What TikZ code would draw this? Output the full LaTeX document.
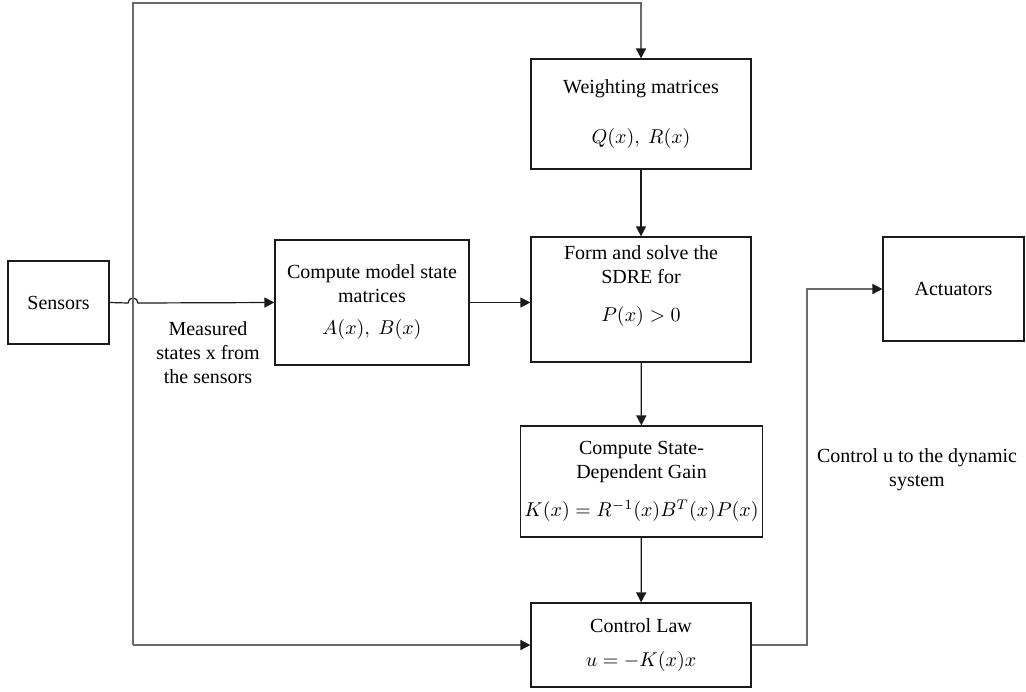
\documentclass[tikz,border=0pt]{standalone}
\usepackage{fontspec}
\setmainfont{Liberation Serif}
\usepackage{xcolor}
\definecolor{cLine}{HTML}{1A1A1A}
\definecolor{cFeed}{HTML}{6A6A6A}
\usepackage{tikz}
\usetikzlibrary{positioning,arrows.meta,calc}
\tikzset{
  node-box/.style={draw=cLine,semithick,align=center,font=\fontsize{10}{12}\selectfont,
    inner sep=2pt},
  node-label/.style={align=center,font=\fontsize{10}{12}\selectfont},
  arrow/.style={-{Stealth[length=5pt,width=5pt,inset=0pt]},semithick,draw=cLine},
  arrow-feed/.style={-{Stealth[length=5pt,width=5pt,inset=0pt,color=cLine]},thick,draw=cFeed},
}

\begin{document}
\begin{tikzpicture}[x=0.5pt,y=-0.5pt]
  \useasboundingbox (0,0) rectangle (1026,691);
  \node[node-box,minimum width=50.5pt,minimum height=41.5pt] (sens) at (58.5,302.5) {Sensors};
  \node[node-box,minimum width=97pt,minimum height=62.5pt] (model) at (372,302.5)
    {Compute model state\\matrices\\[4pt]$A(x),\ B(x)$};
  \node[node-box,minimum width=110pt,minimum height=55pt] (weight) at (641,114)
    {Weighting matrices\\[13pt]$Q(x),\ R(x)$};
  \node[node-box,minimum width=110pt,minimum height=62.5pt] (sdre) at (641,299.5)
    {Form and solve the\\SDRE for\\[7pt]$P(x)>0$\\[4pt]};
  \node[node-box,minimum width=113.5pt,minimum height=55.5pt] (gain) at (641.5,481.5)
    {Compute State-\\Dependent Gain\\[7pt]$K(x)=R^{-1}(x)B^{T}(x)P(x)$};
  \node[node-box,minimum width=110pt,minimum height=42pt] (law) at (641,645)
    {Control Law\\[5pt]$u=-K(x)x$};
  \node[node-box,minimum width=70.5pt,minimum height=52pt] (act) at (953.5,289) {Actuators};
  \node[node-label] (meas) at (208,353) {Measured\\states x from\\the sensors};
  \node[node-label] (ctrl) at (917,470) {Control u to the dynamic\\system};

  \coordinate (fbtop) at (133,3);
  \coordinate (fbbot) at (133,645);
  \coordinate (hop) at (133,303);
  \coordinate (turn) at (807,645);

  \draw[arrow] (sens.east) -- ([xshift=-2.5pt]hop) arc[start angle=180,end angle=0,radius=2.5pt]
    -- (model.west);
  \draw[arrow] (model.east) -- (model.east -| sdre.west);
  \draw[arrow] (weight) -- (sdre);
  \draw[arrow] (sdre) -- (gain);
  \draw[arrow] (gain) -- (law);
  \draw[arrow-feed] (fbbot) -- (fbtop) -| (weight.north);
  \draw[arrow-feed] (fbbot) -- (law.west);
  \draw[arrow-feed] (law.east) -- (turn) |- (act.west);
\end{tikzpicture}
\end{document}
